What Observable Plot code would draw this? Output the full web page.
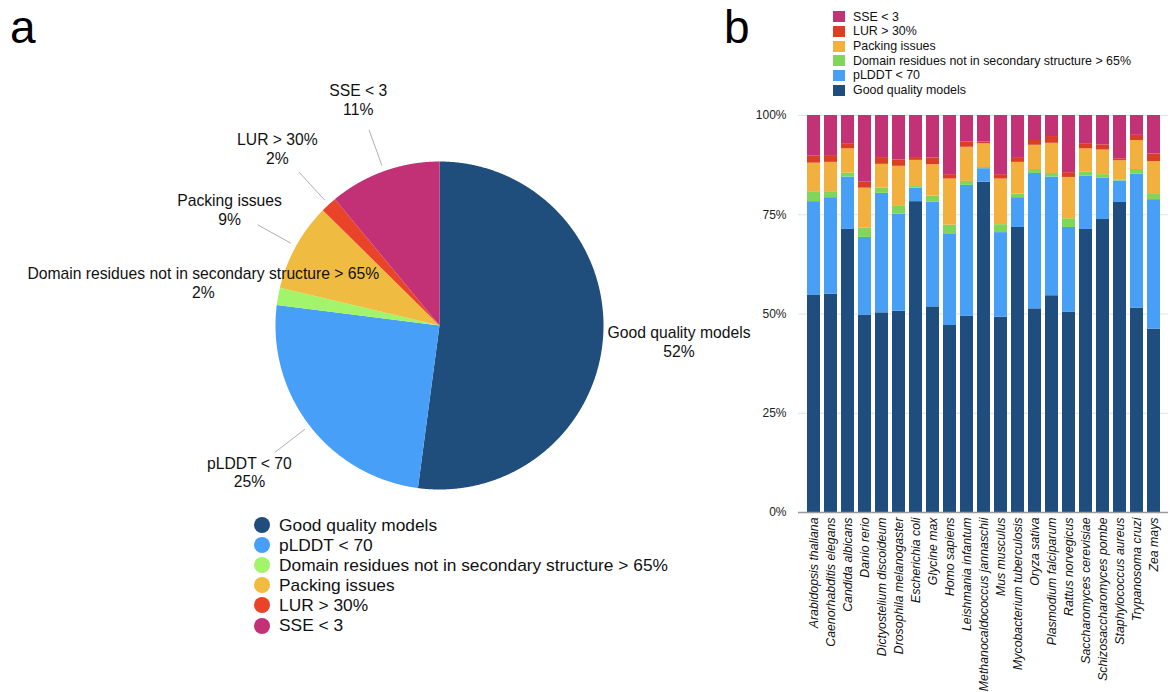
<!DOCTYPE html>
<html>
<head>
<meta charset="utf-8">
<script src="https://cdn.jsdelivr.net/npm/d3@7"></script>
<script src="https://cdn.jsdelivr.net/npm/@observablehq/plot@0.6"></script>
<style>
  html, body { margin: 0; padding: 0; background: #fff; }
  #root { position: relative; width: 1171px; height: 692px; overflow: hidden; background: #fff;
          font-family: "Liberation Sans", Arial, Helvetica, sans-serif; color: #111; }
  .panel-letter { position: absolute; font-size: 46px; line-height: 46px; color: #000; }
  #pie, #bars { position: absolute; }
  #pie { left: 0; top: 0; }
  #bars { left: 740px; top: 100px; }
  #bars g[aria-label="x-axis tick label"] text { font-style: italic; }
  .legA { position: absolute; left: 254px; top: 515px; }
  .legA .row { display: flex; align-items: center; height: 20.1px; font-size: 17.35px; }
  .legA .sw { width: 16px; height: 16px; border-radius: 50%; margin-right: 9px; flex: none; }
  .legB { position: absolute; left: 833px; top: 9.4px; }
  .legB .row { display: flex; align-items: center; height: 14.7px; font-size: 12.4px; }
  .legB .sw { width: 12px; height: 11px; margin-right: 8px; flex: none; }
</style>
</head>
<body>
<div id="root">
  <div class="panel-letter" style="left:10px; top:4px;">a</div>
  <div class="panel-letter" style="left:724px; top:4px;">b</div>
  <div id="pie"></div>
  <div class="legA" id="legA"></div>
  <div class="legB" id="legB"></div>
  <div id="bars"></div>
</div>
<script>
// ---------- Panel a: pie ----------
const pieCats = ["Good quality models", "pLDDT < 70", "Domain residues not in secondary structure > 65%", "Packing issues", "LUR > 30%", "SSE < 3"];
const pieValues = [52.1, 24.9, 1.7, 8.7, 1.6, 11.0];
const pieColors = ["#1f4d7c", "#479ff7", "#a2f46b", "#f0bb41", "#e9432a", "#c23075"];
const pieLeader = [false, true, false, true, true, true];

// ---------- Panel b: stacked bars ----------
const species = ["Arabidopsis thaliana", "Caenorhabditis elegans", "Candida albicans", "Danio rerio",
  "Dictyostelium discoideum", "Drosophila melanogaster", "Escherichia coli", "Glycine max",
  "Homo sapiens", "Leishmania infantum", "Methanocaldococcus jannaschii", "Mus musculus",
  "Mycobacterium tuberculosis", "Oryza sativa", "Plasmodium falciparum", "Rattus norvegicus",
  "Saccharomyces cerevisiae", "Schizosaccharomyces pombe", "Staphylococcus aureus", "Trypanosoma cruzi", "Zea mays"];
const goodQuality = [54.8, 55.0, 71.3, 49.75, 50.3, 50.7, 78.3, 51.8, 47.1, 49.4, 83.2, 49.2, 71.8, 51.3, 54.6, 50.5, 71.3, 73.8, 78.1, 51.5, 46.2];
const plddtLow    = [23.5, 24.3, 13.2, 19.55, 30.1, 24.5, 3.4, 26.4, 23.1, 33.0, 3.4, 21.3, 7.5, 34.1, 29.9, 21.3, 13.4, 10.4, 5.4, 33.7, 32.6];
const domainSS    = [2.5, 1.5, 1.0, 2.3, 1.3, 1.9, 0.4, 1.5, 2.2, 1.0, 0.3, 2.0, 0.9, 1.0, 0.9, 2.2, 1.0, 0.9, 0.3, 1.2, 1.3];
const packing     = [7.2, 7.4, 6.1, 10.1, 6.0, 10.1, 6.6, 7.9, 11.6, 8.6, 6.0, 11.5, 8.0, 6.1, 7.6, 10.4, 5.9, 6.2, 4.8, 7.3, 8.3];
const lur         = [1.75, 1.7, 1.3, 1.5, 1.7, 1.6, 0.7, 1.7, 1.1, 1.3, 0.4, 1.1, 1.2, 1.2, 1.7, 1.2, 1.3, 1.3, 0.5, 1.3, 1.9];
const sse         = [10.25, 10.1, 7.1, 16.8, 10.6, 11.2, 10.6, 10.7, 14.9, 6.7, 6.7, 14.9, 10.6, 6.3, 5.3, 14.4, 7.1, 7.4, 10.9, 5.0, 9.7];
const barCats = pieCats;
const barColors = ["#1f4d7d", "#47a0f5", "#80d658", "#f2b03f", "#dc3d25", "#c43276"];
const yTicks = [0, 25, 50, 75, 100];

// pie geometry (pixels relative to pie centre)
const R = 164, RL = 240, RL1 = 170, RL2 = 208;
const arcs = d3.pie().sort(null).value(d => d)(pieValues);
const slicePts = [];
arcs.forEach((a, i) => {
  slicePts.push({key: pieCats[i], x: 0, y: 0});
  const n = Math.max(4, Math.ceil((a.endAngle - a.startAngle) / 0.005));
  for (let k = 0; k <= n; k++) {
    const t = a.startAngle + (a.endAngle - a.startAngle) * k / n;
    slicePts.push({key: pieCats[i], x: R * Math.sin(t), y: -R * Math.cos(t)});
  }
});
const mid = a => (a.startAngle + a.endAngle) / 2;
const pieLabels = arcs.map((a, i) => ({
  text: pieCats[i] + "\n" + Math.round(pieValues[i]) + "%",
  x: RL * Math.sin(mid(a)), y: -RL * Math.cos(mid(a))
}));
const leaders = arcs.map((a, i) => ({
  on: pieLeader[i],
  x1: RL1 * Math.sin(mid(a)), y1: -RL1 * Math.cos(mid(a)),
  x2: RL2 * Math.sin(mid(a)), y2: -RL2 * Math.cos(mid(a))
})).filter(d => d.on);

const pie = Plot.plot({
  width: 720, height: 510,
  margin: 0,
  x: {type: "linear", domain: [-439, 281], range: [0, 720], axis: null},
  y: {type: "linear", domain: [-325, 185], range: [0, 510], axis: null},
  color: {domain: pieCats, range: pieColors},
  style: {fontFamily: '"Liberation Sans", Arial, Helvetica, sans-serif', background: "transparent", overflow: "visible"},
  marks: [
    Plot.line(slicePts, {x: "x", y: "y", z: "key", fill: "key", stroke: "none"}),
    Plot.link(leaders, {x1: "x1", y1: "y1", x2: "x2", y2: "y2", stroke: "#9a9a9a", strokeWidth: 0.8}),
    Plot.text(pieLabels, {x: "x", y: "y", text: "text", fontSize: 15.7, lineHeight: 1.2, fill: "#111"})
  ]
});
document.getElementById("pie").appendChild(pie);

// legend a
const legA = document.getElementById("legA");
pieCats.forEach((c, i) => {
  const row = document.createElement("div"); row.className = "row";
  const sw = document.createElement("span"); sw.className = "sw"; sw.style.background = pieColors[i];
  const tx = document.createElement("span"); tx.textContent = c;
  row.appendChild(sw); row.appendChild(tx); legA.appendChild(row);
});

// legend b (reverse order)
const legB = document.getElementById("legB");
barCats.slice().reverse().forEach((c) => {
  const i = barCats.indexOf(c);
  const row = document.createElement("div"); row.className = "row";
  const sw = document.createElement("span"); sw.className = "sw"; sw.style.background = barColors[i];
  const tx = document.createElement("span"); tx.textContent = c;
  row.appendChild(sw); row.appendChild(tx); legB.appendChild(row);
});

// long-format table for bars
const series = [goodQuality, plddtLow, domainSS, packing, lur, sse];
const barData = [];
species.forEach((s, j) => {
  series.forEach((arr, k) => barData.push({species: s, cat: barCats[k], value: arr[j]}));
});

const bars = Plot.plot({
  width: 431, height: 592,
  marginTop: 15, marginBottom: 180, marginLeft: 58, marginRight: 3,
  x: {type: "band", domain: species, paddingInner: 0.26, paddingOuter: 0.1, label: null},
  y: {domain: [0, 100], label: null},
  color: {domain: barCats, range: barColors},
  style: {fontFamily: '"Liberation Sans", Arial, Helvetica, sans-serif', background: "transparent", overflow: "visible", color: "#111"},
  marks: [
    Plot.gridY(yTicks, {stroke: "#e2e2e2", strokeOpacity: 1, strokeWidth: 1}),
    Plot.barY(barData, {x: "species", y: "value", fill: "cat", z: "cat"}),
    Plot.ruleY([0], {stroke: "#9a9a9a", strokeWidth: 1.5}),
    Plot.axisY(yTicks, {tickFormat: d => d + "%", tickSize: 0, tickPadding: 12, fontSize: 12, fill: "#222", label: null}),
    Plot.axisX({tickRotate: -90, tickSize: 0, tickPadding: 5, fontSize: 12.3, fill: "#111", label: null})
  ]
});
document.getElementById("bars").appendChild(bars);
</script>
</body>
</html>
